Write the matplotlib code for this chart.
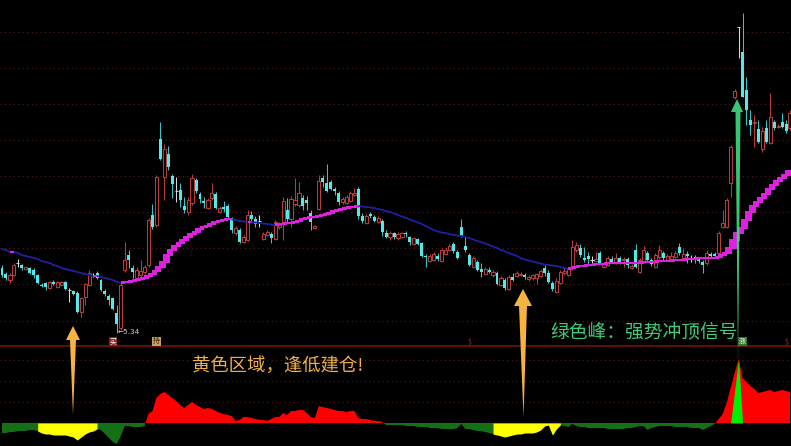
import numpy as np
import matplotlib
matplotlib.use("Agg")
import matplotlib.pyplot as plt
from matplotlib.collections import LineCollection
from matplotlib.patches import Polygon

plt.rcParams['font.family'] = ['Noto Sans CJK SC', 'DejaVu Sans']

# ---------------- data (prices in cents) ----------------
open_cents = [
    599, 593, 587, 592, 604, 602, 598, 599, 597, 592,
    582, 584, 579, 585, 580, 582, 585, 577, 576, 574,
    555, 570, 582, 592, 594, 587, 576, 571, 569, 554,
    539, 597, 612, 599, 589, 592, 595, 602, 652, 642,
    728, 690, 713, 691, 676, 677, 661, 655, 664, 687,
    673, 666, 659, 669, 673, 655, 660, 661, 647, 634,
    637, 625, 627, 652, 648, 646, 628, 632, 633, 628,
    640, 644, 657, 648, 663, 662, 669, 667, 654, 639,
    658, 689, 684, 685, 678, 674, 665, 664, 666, 672,
    678, 651, 644, 653, 650, 645, 646, 634, 630, 634,
    629, 630, 634, 630, 623, 628, 624, 611, 606, 607,
    611, 606, 613, 617, 623, 615, 640, 621, 612, 600,
    605, 598, 593, 597, 592, 594, 582, 587, 578, 590,
    591, 592, 592, 588, 589, 589, 591, 599, 594, 584,
    575, 584, 594, 592, 599, 617, 619, 609, 611, 607,
    606, 614, 600, 602, 608, 604, 609, 607, 608, 599,
    617, 595, 605, 614, 607, 600, 610, 614, 607, 608,
    610, 620, 608, 613, 609, 610, 608, 605, 604, 613,
    613, 614, 640, 640, 684, 770, 840, 815, 777, 747,
    744, 738, 718, 739, 724, 745, 740, 745, 743, 739]
close_cents = [
    592, 589, 592, 602, 604, 599, 600, 594, 592, 584,
    581, 580, 585, 583, 585, 585, 578, 577, 573, 555,
    569, 583, 594, 592, 589, 577, 573, 567, 558, 543,
    582, 607, 607, 595, 597, 596, 600, 647, 640, 690,
    708, 718, 700, 683, 676, 667, 657, 667, 689, 676,
    668, 664, 667, 674, 659, 659, 658, 650, 637, 639,
    625, 630, 652, 648, 643, 646, 633, 635, 629, 645,
    642, 666, 648, 668, 667, 674, 661, 664, 645, 641,
    686, 685, 676, 678, 676, 665, 668, 670, 674, 674,
    651, 646, 651, 651, 646, 649, 635, 630, 634, 630,
    633, 634, 633, 625, 629, 623, 611, 610, 611, 613,
    608, 617, 617, 621, 616, 609, 631, 617, 602, 609,
    597, 595, 598, 595, 595, 583, 589, 579, 590, 587,
    594, 593, 590, 590, 592, 593, 596, 594, 585, 578,
    586, 595, 596, 598, 620, 622, 612, 607, 608, 607,
    608, 604, 603, 609, 605, 609, 604, 608, 602, 601,
    600, 607, 617, 607, 603, 612, 617, 609, 611, 611,
    614, 614, 613, 611, 609, 608, 606, 602, 614, 611,
    611, 634, 644, 667, 720, 776, 840, 770, 757, 742,
    745, 725, 736, 725, 750, 739, 741, 740, 736, 754]
high_cents = [
    602, 595, 594, 604, 608, 603, 601, 600, 599, 593,
    584, 585, 586, 587, 586, 586, 586, 579, 577, 576,
    570, 584, 597, 594, 596, 588, 578, 573, 570, 562,
    584, 625, 617, 602, 600, 607, 602, 649, 663, 692,
    745, 723, 721, 693, 690, 684, 670, 670, 693, 689,
    675, 670, 669, 684, 675, 661, 666, 663, 650, 641,
    639, 632, 657, 656, 651, 652, 635, 637, 635, 647,
    645, 670, 669, 671, 689, 685, 672, 671, 657, 642,
    692, 692, 703, 687, 680, 676, 670, 672, 676, 679,
    680, 654, 653, 655, 652, 651, 648, 637, 636, 635,
    635, 635, 636, 631, 630, 629, 625, 613, 613, 615,
    614, 619, 620, 623, 625, 617, 648, 630, 614, 611,
    607, 604, 600, 600, 597, 596, 591, 589, 592, 594,
    596, 595, 594, 592, 593, 594, 598, 602, 597, 586,
    589, 597, 599, 600, 627, 625, 623, 620, 615, 611,
    615, 616, 605, 611, 611, 614, 611, 610, 610, 603,
    623, 609, 621, 616, 609, 614, 622, 616, 613, 615,
    616, 624, 619, 616, 612, 612, 610, 607, 617, 615,
    615, 636, 657, 669, 722, 778, 840, 854, 790, 757,
    752, 747, 740, 747, 774, 747, 743, 754, 747, 757]
low_cents = [
    590, 587, 584, 591, 600, 597, 597, 593, 589, 583,
    580, 577, 578, 582, 579, 581, 577, 565, 572, 554,
    550, 562, 581, 590, 588, 576, 571, 562, 557, 534,
    537, 595, 599, 589, 587, 590, 593, 600, 638, 640,
    707, 667, 697, 669, 665, 660, 654, 652, 662, 674,
    664, 659, 658, 667, 658, 654, 655, 649, 634, 632,
    624, 624, 626, 645, 640, 640, 627, 631, 624, 627,
    638, 627, 645, 640, 661, 660, 657, 657, 637, 638,
    657, 680, 675, 677, 672, 662, 663, 663, 665, 671,
    648, 644, 643, 649, 645, 644, 631, 629, 627, 628,
    627, 629, 630, 622, 622, 622, 610, 600, 605, 606,
    606, 605, 612, 616, 614, 608, 630, 615, 601, 599,
    596, 590, 592, 594, 590, 582, 581, 577, 577, 586,
    590, 591, 588, 586, 587, 583, 590, 591, 584, 576,
    574, 583, 592, 591, 597, 615, 610, 605, 602, 603,
    605, 603, 599, 601, 604, 603, 603, 600, 599, 598,
    599, 594, 604, 606, 601, 599, 608, 607, 606, 606,
    609, 612, 607, 604, 605, 604, 604, 594, 602, 609,
    609, 612, 639, 639, 670, 768, 809, 770, 742, 732,
    720, 724, 715, 724, 723, 737, 739, 739, 734, 737]
ma30_cents = [
    618, 617, 615, 615, 614, 612, 611, 610, 609, 608,
    606, 605, 604, 602, 601, 599, 598, 597, 596, 595,
    594, 593, 592, 591, 591, 590, 589, 588, 587, 585,
    584, 584.5, 585, 586, 587, 588, 589, 591, 593, 596,
    600, 605, 612, 617, 621, 624, 627, 630, 633, 635,
    638, 640, 641, 643, 645, 646, 647, 647.5, 647.5, 647,
    646, 645.5, 645, 645, 644.5, 644, 643.5, 643, 642.5, 642,
    642.5, 643, 643.5, 644, 645, 646, 647.5, 648.5, 649.5, 650,
    651, 652, 653, 654, 655.5, 657, 658, 659, 659.5, 660,
    661, 660.5, 660, 659.5, 659, 658, 657, 656, 655, 653.5,
    652, 650.5, 649, 647.5, 646, 644.5, 643, 641, 639, 637,
    635.5, 634.5, 634, 633, 632, 631.5, 631, 630, 629, 627.5,
    626, 625, 623.5, 622, 620.5, 619, 617, 615.5, 614, 612.5,
    611, 609, 607.5, 606.5, 605.5, 604.5, 603.5, 602.5, 602, 601.5,
    601, 600, 599, 598, 598.5, 599.5, 600.5, 601, 601.5, 602,
    602.5, 603, 603, 603.5, 603.5, 604, 604, 604, 604, 604,
    604, 604, 604.5, 604.5, 605, 605, 605.5, 605.5, 606, 606,
    606.5, 607, 607, 607.5, 608, 608, 608.5, 608.5, 609, 609,
    609, 610, 611.5, 614, 619, 627, 634, 639, 647, 655,
    661, 665, 669, 673, 678, 682, 686, 689, 692, 696]
osc_values = [
    -10, -10, -9, -9, -8, -8, -8, -7, -7, -8,
    -10, -11, -11, -12, -12, -12, -12, -13, -14, -17,
    -14, -11, -9, -8, -6, -7, -11, -15, -19, -21,
    -13, -3, -3, -4, -4, -4, -3, 9, 12, 25,
    29, 31, 28, 25, 22, 18, 15, 18, 21, 18,
    16, 14, 15, 14, 12, 10, 9, 8, 7, 2,
    3, 6, 6, 5, 4, 3, 3, 2, 4, 6,
    6, 10, 8, 12, 12, 13, 13, 10, 6, 5,
    17, 16, 15, 14, 13, 12, 12, 11, 12, 12,
    5, 4, 4, 3, 2, 2, 1, -2, -2, -2,
    -2, -2, -3, -3, -3, -4, -4, -4, -5, -5,
    -5, -6, -6, -6, -6, -5, -1, -6, -6, -7,
    -8, -8, -9, -10, -11, -12, -13, -14, -13, -12,
    -11, -11, -10, -10, -10, -9, -7, -3, -2, -12,
    -6, -2, -3, -4, -1, -3, -4, -4, -5, -5,
    -5, -5, -5, -6, -6, -6, -6, -6, -5, -5,
    -4, -3, -3, -7, -5, -4, -3, -3, -3, -3,
    -4, -4, -4, -4, -5, -5, -5, -7, -5, -3,
    -1, 4, 9, 20, 35, 50, 64, 45, 41, 37,
    34, 30, 31, 32, 33, 31, 32, 33, 32, 31]
yellow_zones = [(9, 24), (124, 141)]
green_peak = [184, 186, 187]
signal_index = [28, 39, 118, 187, 198]
signal_text = ['买', '持', '$', '涨', '$']
note_buy = '黄色区域，逢低建仓!'
note_top = '绿色峰：强势冲顶信号'

o = np.array(open_cents, float) / 100
c = np.array(close_cents, float) / 100
h = np.array(high_cents, float) / 100
l = np.array(low_cents, float) / 100
ma = np.array(ma30_cents, float) / 100
osc = np.array(osc_values, float)
n = len(o)
x = np.arange(n)

# ---------------- layout ----------------
W, H = 791, 446
TOP_H = 346
X0, PITCH = 2.0, 3.96
xlim = (-X0 / PITCH, (W - X0) / PITCH)
P_TOP, PX = 8.67, 100.0

fig = plt.figure(figsize=(W / 100, H / 100), dpi=100)
fig.patch.set_facecolor('black')

ax = fig.add_axes([0, (H - TOP_H) / H, 1, TOP_H / H])
ax.set_xlim(*xlim)
ax.set_ylim(P_TOP - TOP_H / PX, P_TOP)
ax.axis('off')

GRID = '#5a1c1c'
for gy in [32, 68, 104, 140, 176, 212, 248, 284, 321]:
    ax.axhline(P_TOP - gy / PX, color=GRID, lw=0.8, ls=(0, (1, 3)), zorder=0)

RED = '#b83c3c'
CYAN = '#55e8e8'
CYAN_W = '#3cc4c4'
WHITE = '#d8d8d8'
up = c > o
dn = c < o
fl = c == o
ax.vlines(x[up], c[up], h[up], color=RED, lw=0.75, zorder=2)
ax.vlines(x[up], l[up], o[up], color=RED, lw=0.75, zorder=2)
ax.bar(x[up], c[up] - o[up], bottom=o[up], width=0.8, facecolor='black',
       edgecolor=RED, linewidth=0.75, zorder=2)
ax.vlines(x[dn], l[dn], h[dn], color=CYAN_W, lw=0.75, zorder=2)
ax.bar(x[dn], np.maximum(o[dn] - c[dn], 0.012), bottom=c[dn], width=0.75,
       color=CYAN, linewidth=0, zorder=2)
ax.vlines(x[fl], l[fl], h[fl], color=WHITE, lw=0.75, zorder=2)
ax.hlines(o[fl], x[fl] - 0.4, x[fl] + 0.4, color=WHITE, lw=0.75, zorder=2)

# moving average: thin blue when falling, magenta steps when rising
d = np.diff(ma)
rising = d >= 0
segs = [[(x[i], ma[i]), (x[i + 1], ma[i + 1])] for i in range(n - 1) if not rising[i]]
ax.add_collection(LineCollection(segs, colors='#2020a8', linewidths=1.2,
                                 capstyle='round', zorder=3))
ri = np.where(rising)[0]
pad = 1.0 / PX
dpx = d[ri] * PX
ax.bar(x[ri] + 0.5, d[ri] + 2 * pad, bottom=ma[ri] - pad,
       width=1.0 + 0.12 * dpx, color='#e020e0', linewidth=0, zorder=3)

imin = int(np.argmin(l))
ax.annotate(f'←{l[imin]:.2f}', xy=(x[imin], l[imin]), xytext=(0.5, 0.5),
            textcoords='offset points', fontsize=5.2, color='#cfcfcf',
            va='center', ha='left', family='DejaVu Sans', zorder=4)

# ---------------- bottom indicator ----------------
ax2 = fig.add_axes([0, 0, 1, (H - TOP_H) / H])
ax2.set_xlim(*xlim)
ax2.set_ylim(-23, 77)
ax2.axis('off')
for gv in [21, 42, 63]:
    ax2.axhline(gv, color=GRID, lw=0.8, ls=(0, (1, 3)), zorder=0)
ax2.fill_between(x, osc, 0, where=osc <= 0, interpolate=True,
                 color='#147014', lw=0, zorder=1)
ax2.fill_between(x, osc, 0, where=osc >= 0, interpolate=True,
                 color='#ff0000', lw=0, zorder=1)
for a, b in yellow_zones:
    ax2.fill_between(x[a:b + 1], osc[a:b + 1], 0, color='#ffff00', lw=0, zorder=2)
ax2.fill_between(x[green_peak], [0, osc[green_peak[1]], 0], 0,
                 color='#00ee00', lw=0, zorder=2)

# ---------------- overlay (annotations) ----------------
axo = fig.add_axes([0, 0, 1, 1])
axo.set_xlim(0, W)
axo.set_ylim(H, 0)
axo.axis('off')
axo.patch.set_alpha(0)

axo.plot([0, W], [TOP_H, TOP_H], color='#7a1414', lw=1.1, zorder=1)

ORANGE = '#f6b33f'
axo.add_patch(Polygon([(73, 326), (80, 340), (76, 340), (73, 415),
                       (70, 340), (66, 340)], closed=True,
                      facecolor=ORANGE, edgecolor='none', zorder=5))
axo.add_patch(Polygon([(523, 289), (532, 306), (527, 306), (523.5, 417),
                       (519, 306), (514, 306)], closed=True,
                      facecolor=ORANGE, edgecolor='none', zorder=5))
axo.add_patch(Polygon([(737, 99), (743, 112), (740.5, 112), (738, 362),
                       (735.5, 112), (731, 112)], closed=True,
                      facecolor='#3ed680', edgecolor='none', alpha=0.92, zorder=5))

axo.text(277.5, 366, note_buy, ha='center', va='center', color='#f0b048',
         fontsize=13.2, zorder=6)
axo.text(644, 332, note_top, ha='center', va='center', color='#3ecb7a',
         fontsize=13.5, zorder=6)

sig_style = {
    '买': dict(color='white', bbox=dict(boxstyle='square,pad=0.1', fc='#9a1a1a', ec='none')),
    '持': dict(color='#3a2000', bbox=dict(boxstyle='square,pad=0.1', fc='#c8a060', ec='none')),
    '$': dict(color='#d02020', bbox=None),
    '涨': dict(color='white', bbox=dict(boxstyle='square,pad=0.1', fc='#2a7a2a', ec='none')),
}
for idx, t in zip(signal_index, signal_text):
    st = sig_style[t]
    axo.text(X0 + PITCH * idx, 341.5, t, ha='center', va='center', fontsize=5,
             color=st['color'], bbox=st['bbox'], zorder=6)

fig.savefig('out.png', dpi=100, facecolor='black')
